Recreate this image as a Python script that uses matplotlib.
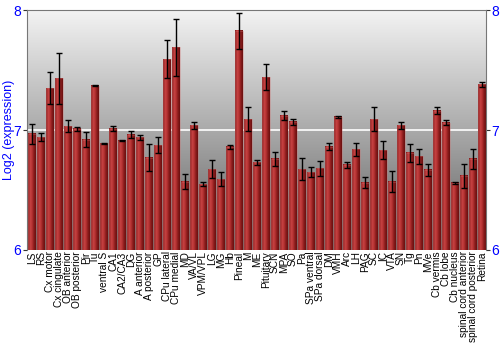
import numpy as np
import matplotlib
matplotlib.use("Agg")
import matplotlib.pyplot as plt
from matplotlib.colors import LinearSegmentedColormap

plt.rcParams['font.family'] = ['Liberation Sans', 'DejaVu Sans']

# region names and log2 expression
regions = ['LS', 'RS', 'Cx motor', 'Cx cingulate', 'OB anterior', 'OB posterior', 'Pir', 'Tu',
           'ventral S', 'CA1', 'CA2/CA3', 'DG', 'A anterior', 'A posterior', 'GP', 'CPu lateral',
           'CPu medial', 'MD', 'VA/VL', 'VPM/VPL', 'LG', 'MG', 'Hb', 'Pineal', 'M', 'ME',
           'Pituitary', 'SCN', 'MPA', 'SO', 'Pa', 'SPa ventral', 'SPa dorsal', 'DM', 'VMH', 'Arc',
           'LH', 'PAG', 'SC', 'IC', 'VTA', 'SN', 'Tg', 'Pn', 'MVe', 'Cb vermis', 'Cb lobe',
           'Cb nucleus', 'spinal cord anterior', 'spinal cord posterior', 'Retina']
expression = [6.97, 6.94, 7.35, 7.43, 7.03, 7.01, 6.92, 7.37,
              6.89, 7.01, 6.91, 6.96, 6.94, 6.77, 6.875, 7.59,
              7.69, 6.57, 7.04, 6.55, 6.675, 6.59, 6.86, 7.83, 7.09, 6.73,
              7.44, 6.76, 7.12, 7.07, 6.675, 6.65, 6.68, 6.86, 7.11, 6.71,
              6.84, 6.56, 7.09, 6.83, 6.57, 7.04, 6.81, 6.78, 6.67, 7.16, 7.06,
              6.56, 6.62, 6.76, 7.38]
errors = [0.083, 0.035, 0.13, 0.21, 0.05, 0.015, 0.06, 0.005,
          0.003, 0.02, 0.003, 0.03, 0.02, 0.115, 0.07, 0.16,
          0.24, 0.06, 0.03, 0.015, 0.075, 0.06, 0.015, 0.15, 0.1, 0.02,
          0.11, 0.06, 0.04, 0.025, 0.09, 0.045, 0.06, 0.03, 0.01, 0.025,
          0.055, 0.045, 0.1, 0.075, 0.085, 0.03, 0.075, 0.065, 0.05, 0.03, 0.02,
          0.007, 0.1, 0.085, 0.02]
y_ticks = [6, 7, 8]

fig = plt.figure(figsize=(5, 3.5), dpi=100)
ax = fig.add_axes([0.054, 0.286, 0.918, 0.685])

x = np.arange(len(regions))
ymin, ymax = 6, 8
xmin, xmax = -0.58, len(regions) - 0.55

# background: vertical grey gradient
bg = LinearSegmentedColormap.from_list('bg', ['#5c5c5c', '#aaaaaa', '#f3f3f3'])
ax.imshow(np.linspace(0, 1, 256).reshape(-1, 1), cmap=bg, aspect='auto', origin='lower',
          extent=[xmin, xmax, ymin, ymax], zorder=0)
ax.axhline(7, color='white', lw=1.2, zorder=1)

# bars with horizontal shading
width = 0.86
bar_cmap = LinearSegmentedColormap.from_list('bar', ['#7a1515', '#c84444', '#b83434', '#8a1c1c', '#6a1010'])
shade = np.linspace(0, 1, 32).reshape(1, -1)
for xi, val in zip(x, expression):
    ax.imshow(shade, cmap=bar_cmap, aspect='auto',
              extent=[xi - width / 2, xi + width / 2, ymin, val], zorder=2, interpolation='bilinear')
ax.bar(x, np.array(expression) - ymin, bottom=ymin, width=width, color='none',
       edgecolor='#d07070', linewidth=0.4, alpha=0.6, zorder=3)
ax.errorbar(x, expression, yerr=errors, fmt='none', ecolor='black', elinewidth=1,
            capsize=2.5, capthick=1, zorder=4)

ax.set_xlim(xmin, xmax)
ax.set_ylim(ymin, ymax)
ax.set_xticks(x)
ax.set_xticklabels(regions, rotation=90, fontsize=7.3)
ax.tick_params(axis='x', length=0, pad=1)
ax.set_yticks(y_ticks)
ax.set_yticklabels([str(t) for t in y_ticks])
ax.tick_params(axis='y', colors='#333333', labelcolor='blue', labelsize=10, length=3,
               right=True, labelright=True, pad=1)
ax.set_ylabel('Log2 (expression)', color='blue', fontsize=9, va='center')
ax.yaxis.set_label_coords(-0.039, 0.5)

for side in ['left', 'right', 'top']:
    ax.spines[side].set_color('#777777')
ax.spines['bottom'].set_visible(False)

fig.savefig('out.png', dpi=100)
